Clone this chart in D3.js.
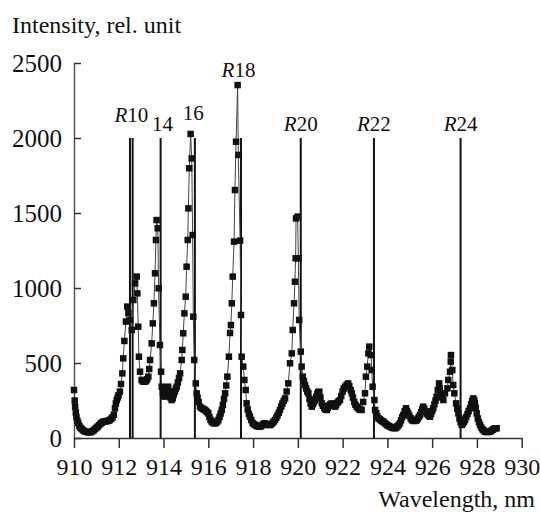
<!DOCTYPE html>
<html>
<head>
<meta charset="utf-8">
<script src="https://cdn.jsdelivr.net/npm/d3@7"></script>
<style>
  body { margin: 0; background: #fff; }
  svg { display: block; }
  svg text { font-family: "Liberation Serif", "Times New Roman", Tinos, "Nimbus Roman", "DejaVu Serif", serif !important; fill: #111; }
</style>
</head>
<body>
<svg id="chart" width="540" height="512"></svg>
<script>
// Spectrum samples: wavelength (nm)
const wavelength = [
  910.00,910.03,910.05,910.08,910.11,910.15,910.19,910.24,910.29,910.34,910.40,910.46,910.52,910.58,910.64,910.70,910.76,910.82,910.88,910.94,
  911.00,911.06,911.12,911.18,911.24,911.30,911.36,911.42,911.48,911.54,911.60,911.66,911.72,911.78,911.83,911.87,911.91,911.95,911.99,912.05,
  912.10,912.16,912.20,912.25,912.32,912.38,912.43,912.50,912.58,912.65,912.73,912.80,912.83,912.87,912.90,912.95,913.02,913.07,913.12,913.17,
  913.22,913.27,913.32,913.36,913.40,913.47,913.52,913.57,913.62,913.66,913.69,913.74,913.78,913.84,913.89,913.92,913.97,914.02,914.07,914.12,
  914.17,914.21,914.26,914.31,914.36,914.41,914.46,914.51,914.55,914.59,914.64,914.69,914.74,914.81,914.84,914.88,914.93,914.99,915.03,915.08,
  915.11,915.15,915.21,915.26,915.30,915.33,915.37,915.44,915.48,915.52,915.57,915.63,915.69,915.75,915.80,915.85,915.90,915.95,916.00,916.05,
  916.10,916.15,916.20,916.25,916.30,916.35,916.40,916.45,916.50,916.55,916.60,916.65,916.70,916.75,916.80,916.85,916.92,916.97,917.01,917.05,
  917.09,917.15,917.19,917.24,917.31,917.34,917.42,917.46,917.49,917.56,917.61,917.67,917.71,917.76,917.81,917.86,917.92,917.98,918.04,918.09,
  918.15,918.20,918.26,918.31,918.37,918.42,918.48,918.53,918.59,918.65,918.70,918.76,918.81,918.87,918.92,918.98,919.04,919.09,919.15,919.20,
  919.26,919.31,919.37,919.43,919.50,919.57,919.65,919.73,919.77,919.83,919.87,919.90,919.92,919.99,920.02,920.06,920.13,920.17,920.22,920.27,
  920.32,920.37,920.42,920.47,920.52,920.57,920.62,920.67,920.72,920.77,920.82,920.87,920.91,920.96,921.01,921.07,921.12,921.18,921.23,921.29,
  921.34,921.40,921.45,921.51,921.56,921.61,921.66,921.71,921.77,921.82,921.88,921.94,922.00,922.05,922.11,922.18,922.25,922.30,922.36,922.41,
  922.46,922.52,922.57,922.63,922.68,922.74,922.79,922.85,922.92,923.00,923.04,923.10,923.15,923.19,923.27,923.30,923.34,923.42,923.45,923.50,
  923.55,923.60,923.66,923.71,923.77,923.82,923.88,923.94,924.00,924.06,924.12,924.18,924.23,924.29,924.34,924.40,924.45,924.51,924.56,924.61,
  924.66,924.71,924.77,924.83,924.88,924.93,924.98,925.04,925.09,925.15,925.20,925.26,925.31,925.36,925.41,925.46,925.51,925.56,925.60,925.65,
  925.71,925.76,925.81,925.86,925.90,925.95,926.00,926.05,926.10,926.15,926.20,926.25,926.31,926.34,926.38,926.44,926.50,926.57,926.68,926.72,
  926.80,926.83,926.84,926.90,926.94,926.99,927.07,927.12,927.17,927.22,927.27,927.32,927.37,927.42,927.47,927.52,927.58,927.63,927.69,927.74,
  927.79,927.84,927.88,927.91,927.95,927.99,928.04,928.09,928.14,928.19,928.25,928.30,928.36,928.42,928.47,928.53,928.58,928.64,928.70,928.75,
  928.81,928.88
];
// Spectrum samples: intensity (rel. unit)
const intensity = [
  320,250,209,170,140,115,100,80,68,60,52,46,42,40,38,38,40,45,52,60,
  68,76,85,95,102,108,110,112,113,115,120,128,138,155,198,230,253,270,285,309,
  360,431,531,647,776,876,833,787,720,920,1031,1076,964,742,542,442,387,378,376,376,
  380,392,409,460,520,631,764,898,1098,1320,1453,1398,998,620,442,342,300,280,276,300,
  330,342,310,270,253,265,290,310,330,342,370,400,431,520,587,698,831,942,1142,1320,
  1531,1798,2027,1864,1353,809,520,364,298,270,240,209,200,195,190,187,180,172,164,140,
  120,109,102,98,98,102,110,120,140,163,187,220,260,298,350,409,542,700,753,898,
  1076,1309,1653,1975,2353,1887,1316,820,542,476,387,320,231,190,160,142,120,100,92,87,
  82,78,76,76,80,88,95,98,92,88,87,87,92,100,110,120,135,150,168,187,
  210,230,248,264,310,364,498,564,720,898,1042,1198,1464,1476,1198,787,576,476,409,380,
  353,330,310,298,260,230,209,225,240,253,275,295,305,309,270,231,215,200,190,187,
  200,215,225,231,225,215,209,220,235,245,253,280,310,330,342,355,364,345,320,298,
  270,240,222,209,200,192,188,187,240,298,409,476,564,609,553,453,342,253,187,165,
  145,131,125,118,112,109,100,92,85,80,76,72,68,66,65,70,78,88,98,118,
  138,153,178,198,180,164,148,132,120,115,113,115,120,130,142,153,172,192,209,195,
  178,164,155,148,142,160,180,198,225,250,276,320,364,330,298,270,253,298,331,387,
  442,509,553,453,353,298,231,195,164,130,105,87,95,108,120,140,160,180,198,225,
  248,264,250,231,200,164,130,105,87,70,58,50,42,40,40,41,42,48,55,60,
  65,65
];
// Rotational line positions (nm), drawn up to 2000
const linePositions = [912.50, 912.62, 913.87, 915.40, 917.46, 920.13, 923.40, 927.27];
const lineTop = 2000;
// Line labels: italic prefix, number, anchor wavelength, anchor intensity
const labelPrefix = ["R", "", "", "R", "R", "R", "R"];
const labelNumber = ["10", "14", "16", "18", "20", "22", "24"];
const labelAtW = [912.56, 913.95, 915.33, 917.35, 920.13, 923.40, 927.27];
const labelAtV = [2105, 2045, 2120, 2407, 2045, 2045, 2045];
// Tick values
const xTicks = [910, 912, 914, 916, 918, 920, 922, 924, 926, 928, 930];
const yTicks = [0, 500, 1000, 1500, 2000, 2500];

const svg = d3.select("#chart");
const x = d3.scaleLinear().domain([910, 930]).range([74, 521.7]);
const y = d3.scaleLinear().domain([0, 2500]).range([438, 63]);

// Axes
const xAxis = d3.axisBottom(x).tickValues(xTicks).tickSizeInner(10).tickSizeOuter(0).tickPadding(10)
  .tickFormat(d3.format("d"));
const gx = svg.append("g").attr("transform", "translate(0,438)").call(xAxis);
gx.select(".domain").attr("stroke", "#333").attr("stroke-width", 1.5);
gx.selectAll(".tick line").attr("stroke", "#333").attr("stroke-width", 1.5);
gx.selectAll(".tick text").attr("font-size", 24);

const yAxis = d3.axisLeft(y).tickValues(yTicks).tickSizeInner(-7).tickSizeOuter(0).tickPadding(12)
  .tickFormat(d3.format("d"));
const gy = svg.append("g").attr("transform", "translate(74,0)").call(yAxis);
gy.select(".domain").attr("stroke", "#555").attr("stroke-width", 1.5);
gy.selectAll(".tick line").attr("stroke", "#333").attr("stroke-width", 1.5);
gy.selectAll(".tick text").attr("font-size", 25);

// Vertical reference lines
svg.append("g").selectAll("line").data(linePositions).join("line")
  .attr("x1", d => x(d)).attr("x2", d => x(d))
  .attr("y1", y(0)).attr("y2", y(lineTop))
  .attr("stroke", "#111").attr("stroke-width", 2);

// Spectrum line
const pts = wavelength.map((w, i) => [w, intensity[i]]);
svg.append("path").datum(pts)
  .attr("fill", "none").attr("stroke", "#444").attr("stroke-width", 1)
  .attr("d", d3.line().x(d => x(d[0])).y(d => y(d[1])));

// Markers
svg.append("g").selectAll("rect").data(pts).join("rect")
  .attr("x", d => x(d[0]) - 3.25).attr("y", d => y(d[1]) - 3.25)
  .attr("width", 6.5).attr("height", 6.5).attr("fill", "#111");

// Line labels
labelNumber.forEach((num, i) => {
  const t = svg.append("text").attr("x", x(labelAtW[i])).attr("y", y(labelAtV[i]))
    .attr("text-anchor", "middle").attr("font-size", 21);
  if (labelPrefix[i]) t.append("tspan").attr("font-style", "italic").text(labelPrefix[i]);
  t.append("tspan").text(num);
});

// Axis titles
svg.append("text").attr("x", 12).attr("y", 33).attr("font-size", 24).text("Intensity, rel. unit");
svg.append("text").attr("x", 535).attr("y", 507).attr("text-anchor", "end").attr("font-size", 24).text("Wavelength, nm");
</script>
</body>
</html>
